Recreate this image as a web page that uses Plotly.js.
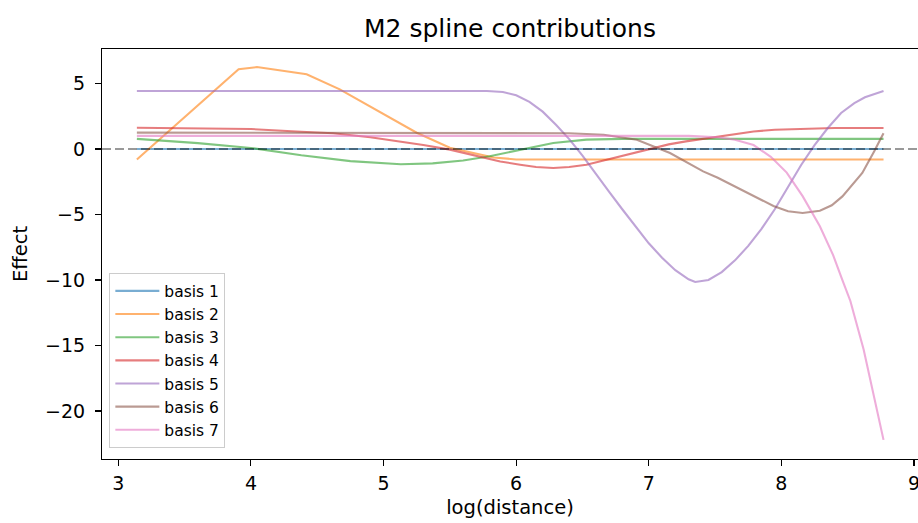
<!DOCTYPE html>
<html>
<head>
<meta charset="utf-8">
<script src="https://cdn.plot.ly/plotly-3.0.1.min.js"></script>
<style>html,body{margin:0;padding:0;background:#fff;}#chart{width:918px;height:523px;}</style>
</head>
<body>
<div id="chart"></div>
<script>
// ---- data ----
const seriesNames = ["basis 1", "basis 2", "basis 3", "basis 4", "basis 5", "basis 6", "basis 7"];

const basis1X = [3.14, 8.77];
const basis1Y = [0, 0];

const basis2X = [3.14, 3.907, 4.045, 4.42, 4.67, 4.95, 5.25, 5.5, 5.83, 6.0, 8.77];
const basis2Y = [-0.8, 6.08, 6.25, 5.7, 4.55, 2.95, 1.24, 0.1, -0.65, -0.8, -0.8];

const basis3X = [3.14, 3.6, 4.0, 4.38, 4.75, 5.13, 5.37, 5.6, 5.8, 6.03, 6.28, 6.53, 6.8, 8.77];
const basis3Y = [0.77, 0.45, 0.08, -0.48, -0.93, -1.16, -1.1, -0.88, -0.55, -0.05, 0.46, 0.71, 0.77, 0.77];

const basis4X = [3.14, 3.6, 4.0, 4.38, 4.62, 4.9, 5.12, 5.3, 5.5, 5.7, 5.88, 6.03, 6.15, 6.28, 6.4, 6.53, 6.65, 6.78, 6.9, 7.03, 7.15, 7.28, 7.4, 7.53, 7.65, 7.79, 7.95, 8.16, 8.4, 8.77];
const basis4Y = [1.62, 1.58, 1.52, 1.32, 1.2, 0.9, 0.6, 0.3, -0.05, -0.5, -0.95, -1.2, -1.38, -1.45, -1.38, -1.2, -0.9, -0.56, -0.25, 0.08, 0.35, 0.58, 0.77, 0.92, 1.15, 1.34, 1.47, 1.55, 1.6, 1.6];

const basis5X = [3.14, 5.78, 5.9, 6.0, 6.1, 6.2, 6.3, 6.4, 6.5, 6.6, 6.7, 6.8, 6.9, 7.0, 7.1, 7.2, 7.3, 7.35, 7.45, 7.55, 7.65, 7.75, 7.85, 7.95, 8.05, 8.15, 8.25, 8.35, 8.45, 8.55, 8.63, 8.7, 8.77];
const basis5Y = [4.42, 4.42, 4.35, 4.1, 3.6, 2.85, 1.85, 0.75, -0.5, -1.9, -3.25, -4.6, -5.9, -7.2, -8.3, -9.25, -9.95, -10.15, -10.0, -9.4, -8.5, -7.4, -6.1, -4.6, -2.9, -1.2, 0.3, 1.6, 2.75, 3.5, 3.95, 4.2, 4.42];

const basis6X = [3.14, 6.0, 6.4, 6.66, 6.91, 7.16, 7.41, 7.52, 7.65, 7.79, 7.94, 8.05, 8.16, 8.29, 8.38, 8.46, 8.61, 8.7, 8.77];
const basis6Y = [1.25, 1.25, 1.2, 1.09, 0.71, -0.31, -1.71, -2.2, -2.85, -3.55, -4.35, -4.75, -4.89, -4.71, -4.3, -3.62, -1.83, -0.18, 1.2];

const basis7X = [3.14, 7.3, 7.52, 7.65, 7.79, 7.92, 8.04, 8.16, 8.29, 8.39, 8.46, 8.52, 8.62, 8.69, 8.77];
const basis7Y = [1.0, 1.0, 0.9, 0.7, 0.3, -0.6, -1.8, -3.6, -5.9, -8.1, -10.0, -11.6, -15.3, -18.4, -22.2];

const xTicks = [3, 4, 5, 6, 7, 8, 9];
const yTicks = [-20, -15, -10, -5, 0, 5];

// ---- styling ----
const colors = [
  "rgba(31,119,180,0.6)", "rgba(255,127,14,0.6)", "rgba(44,160,44,0.6)",
  "rgba(214,39,40,0.6)", "rgba(148,103,189,0.6)", "rgba(140,86,75,0.6)", "rgba(227,119,194,0.6)"
];
const xs = [basis1X, basis2X, basis3X, basis4X, basis5X, basis6X, basis7X];
const ys = [basis1Y, basis2Y, basis3Y, basis4Y, basis5Y, basis6Y, basis7Y];

const traces = seriesNames.map((n, i) => ({
  type: "scatter", mode: "lines", name: n,
  x: xs[i], y: ys[i],
  line: {color: colors[i], width: 2.1}
}));

const FONT = "DejaVu Sans, sans-serif";
const layout = {
  width: 918, height: 523,
  margin: {l: 102, r: 0, t: 49, b: 64, pad: 0},
  paper_bgcolor: "#fff", plot_bgcolor: "#fff",
  font: {family: FONT, color: "#000"},
  title: {text: "M2 spline contributions", font: {family: FONT, size: 25, color: "#000"},
          xref: "paper", x: 0.5, xanchor: "center", yref: "container", y: 1 - 28.3/523, yanchor: "middle"},
  xaxis: {
    range: [2.877, 9.03], tickvals: xTicks, ticktext: xTicks.map(String),
    showgrid: false, zeroline: false, showline: true, linecolor: "#000", linewidth: 1.1, mirror: true,
    ticks: "outside", ticklen: 6, tickwidth: 1.1, tickcolor: "#000",
    tickfont: {family: FONT, size: 19, color: "#000"}, ticklabelstandoff: 1, ticklabeloverflow: "allow",
    title: {text: "log(distance)", font: {family: FONT, size: 19.5, color: "#000"}, standoff: 7},
    automargin: false
  },
  yaxis: {
    range: [-23.66, 7.63], tickvals: yTicks,
    showgrid: false, zeroline: false, showline: true, linecolor: "#000", linewidth: 1.1, mirror: false,
    ticks: "outside", ticklen: 6, tickwidth: 1.1, tickcolor: "#000",
    tickfont: {family: FONT, size: 19, color: "#000"}, ticklabelstandoff: 6,
    title: {text: "Effect", font: {family: FONT, size: 19.5, color: "#000"}, standoff: 12},
    automargin: false
  },
  shapes: [{
    type: "line", xref: "paper", x0: 0, x1: 1, yref: "y", y0: 0, y1: 0,
    line: {color: "rgba(0,0,0,0.4)", width: 2, dash: "9px,4px"}, layer: "above"
  }],
  legend: {
    x: 0.009, y: 0.026, xanchor: "left", yanchor: "bottom",
    bgcolor: "rgba(255,255,255,0.8)", bordercolor: "#cccccc", borderwidth: 1,
    font: {family: FONT, size: 15.5, color: "#000"}, itemwidth: 44, tracegroupgap: 0
  },
  showlegend: true
};

Plotly.newPlot("chart", traces, layout, {displayModeBar: false, staticPlot: true});
</script>
</body>
</html>
